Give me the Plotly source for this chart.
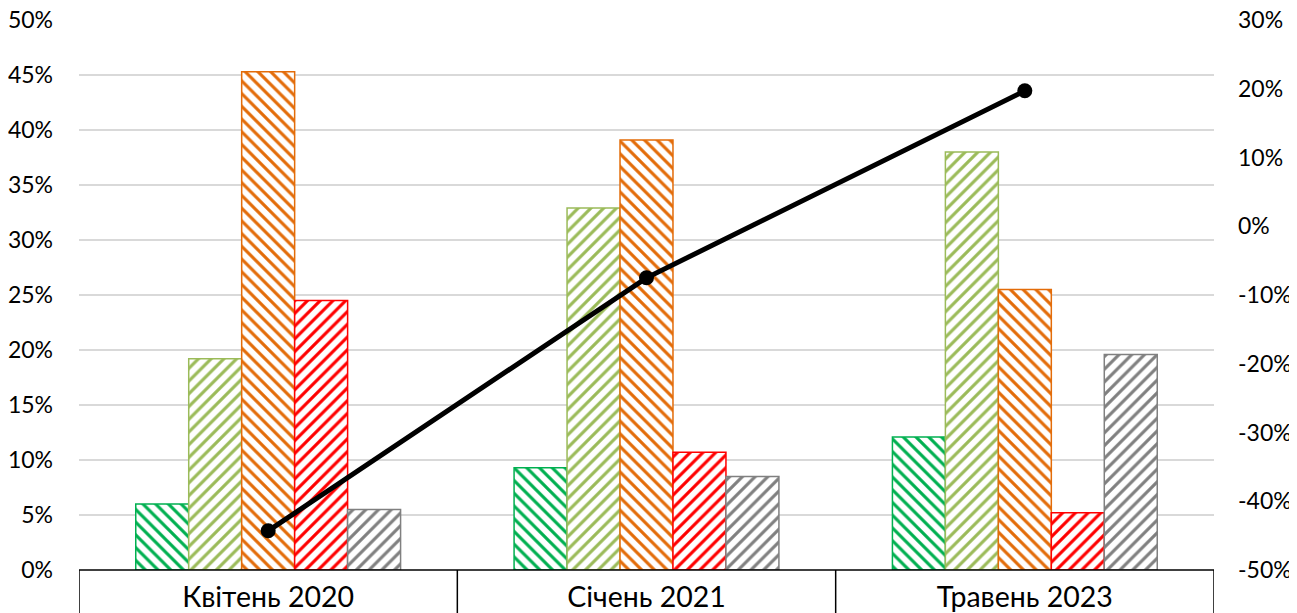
import plotly.graph_objects as go

categories = ["Квітень 2020", "Січень 2021", "Травень 2023"]
series_names = ["S1", "S2", "S3", "S4", "S5"]
s1 = [6.0, 9.3, 12.1]
s2 = [19.2, 32.9, 38.0]
s3 = [45.3, 39.1, 25.5]
s4 = [24.5, 10.7, 5.2]
s5 = [5.5, 8.5, 19.6]
line_vals = [-44.3, -7.5, 19.7]

left_ticks = list(range(0, 51, 5))
right_ticks = list(range(-50, 31, 10))

colors = ["#00B050", "#9BBB59", "#E36C09", "#FF0000", "#808080"]
shapes_pat = ["\\", "/", "\\", "/", "/"]

fig = go.Figure()
for name, vals, c, sh in zip(series_names, [s1, s2, s3, s4, s5], colors, shapes_pat):
    fig.add_trace(go.Bar(
        x=categories, y=vals, name=name,
        marker=dict(color="white", line=dict(color=c, width=1.5),
                    pattern=dict(shape=sh, fgcolor=c, bgcolor="white", fgopacity=1,
                                 size=9, solidity=0.35)),
        showlegend=False,
    ))

fig.add_trace(go.Scatter(
    x=categories, y=line_vals, yaxis="y2", mode="lines+markers",
    line=dict(color="black", width=5), marker=dict(color="black", size=15),
    showlegend=False,
))

font_family = "Lato, 'Open Sans', sans-serif"

shapes = [dict(type="line", xref="x", yref="paper", x0=-0.5, x1=2.5, y0=0, y1=0,
               line=dict(color="black", width=1.5))]
for b in [-0.5, 0.5, 1.5, 2.5]:
    shapes.append(dict(type="line", xref="x", yref="paper", x0=b, x1=b, y0=0, y1=-0.12,
                       line=dict(color="black", width=1.5)))

fig.update_layout(
    width=1297, height=613,
    margin=dict(l=71, r=91, t=12, b=51, autoexpand=False),
    paper_bgcolor="white", plot_bgcolor="white",
    barmode="group", bargap=0.3, bargroupgap=0,
    font=dict(family=font_family, color="black"),
    xaxis=dict(type="category", range=[-0.5, 2.5], showgrid=False, showline=False,
               ticks="", tickfont=dict(size=28.5), ticklabelstandoff=7, automargin=False,
               ticklabeloverflow="allow"),
    yaxis=dict(range=[0, 50], tickvals=left_ticks, ticktext=[f"{v}%" for v in left_ticks],
               showgrid=True, gridcolor="#D9D9D9", gridwidth=1.5, zeroline=False,
               tickfont=dict(size=23), ticks="", ticklabelstandoff=25, showline=False,
               automargin=False, ticklabeloverflow="allow"),
    yaxis2=dict(range=[-50, 30], overlaying="y", side="right",
                tickvals=right_ticks, ticktext=[f"{v}%" for v in right_ticks],
                showgrid=False, zeroline=False, tickfont=dict(size=23), ticks="",
                ticklabelstandoff=23, showline=False, automargin=False,
                ticklabeloverflow="allow"),
    shapes=shapes,
)

fig.write_html("out.html")
